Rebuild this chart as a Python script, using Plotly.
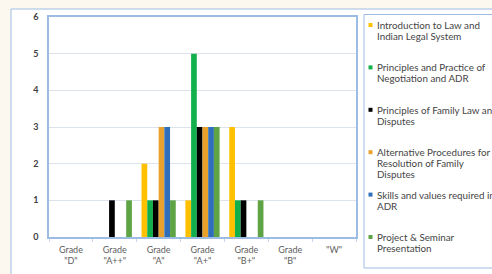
import plotly.graph_objects as go

categories = ['Grade<br>"D"', 'Grade<br>"A++"', 'Grade<br>"A"', 'Grade<br>"A+"',
              'Grade<br>"B+"', 'Grade<br>"B"', '"W"']

series_names = [
    "Introduction to Law and Indian Legal System",
    "Principles and Practice of Negotiation and ADR",
    "Principles of Family Law and Disputes",
    "Alternative Procedures for Resolution of Family Disputes",
    "Skills and values required in ADR",
    "Project & Seminar Presentation",
]
# legend text as wrapped in the reference
legend_lines = [
    ["Introduction to Law and", "Indian Legal System"],
    ["Principles and Practice of", "Negotiation and ADR"],
    ["Principles of Family Law and", "Disputes"],
    ["Alternative Procedures for", "Resolution of Family", "Disputes"],
    ["Skills and values required in", "ADR"],
    ["Project & Seminar", "Presentation"],
]
intro_law = [0, 0, 2, 1, 3, 0, 0]
negotiation_adr = [0, 0, 1, 5, 1, 0, 0]
family_law = [0, 1, 1, 3, 1, 0, 0]
alt_procedures = [0, 0, 3, 3, 0, 0, 0]
skills_adr = [0, 0, 3, 3, 0, 0, 0]
project_seminar = [0, 1, 1, 3, 1, 0, 0]

series_values = [intro_law, negotiation_adr, family_law, alt_procedures, skills_adr, project_seminar]
colors = ["#FFC000", "#12B04C", "#000000", "#E8A22C", "#2F6EBA", "#5FA444"]

W, H = 492, 274
L, R, T, B = 49, 356, 17, 237
pw, ph = R - L, B - T


def px_x(p):
    return (p - L) / pw


def px_y(p):
    return (B - p) / ph


border = "#9DBCE3"
font_fam = "Lato, Open Sans, sans-serif"

fig = go.Figure()
for name, vals, col in zip(series_names, series_values, colors):
    fig.add_trace(go.Bar(x=categories, y=vals, name=name, marker_color=col,
                         marker_line_width=0, showlegend=False))

shapes = [
    dict(type="rect", xref="paper", yref="paper", layer="below",
         x0=px_x(11), x1=px_x(510), y0=px_y(300), y1=px_y(9),
         fillcolor="white", line=dict(color=border, width=1)),
    dict(type="rect", xref="paper", yref="paper",
         x0=px_x(364), x1=px_x(520), y0=px_y(268), y1=px_y(14.5),
         fillcolor="white", line=dict(color=border, width=1)),
]
annotations = []
entry_top = 25
entry_step = 42.4
line_step = 11
for i, (lines, col) in enumerate(zip(legend_lines, colors)):
    y0 = entry_top + i * entry_step
    shapes.append(dict(type="rect", xref="paper", yref="paper",
                       x0=px_x(368.5), x1=px_x(372.5), y0=px_y(y0 + 2), y1=px_y(y0 - 2),
                       fillcolor=col, line=dict(width=0)))
    for j, ln in enumerate(lines):
        annotations.append(dict(xref="paper", yref="paper", x=px_x(375), y=px_y(y0 + j * line_step),
                                xanchor="left", yanchor="middle", showarrow=False, text=ln,
                                font=dict(family=font_fam, size=9.8, color="#454545")))

fig.update_layout(
    width=W, height=H,
    margin=dict(l=L, r=W - R, t=T, b=H - B, pad=0, autoexpand=False),
    paper_bgcolor="#FDF8EF",
    plot_bgcolor="white",
    barmode="group", bargap=0.22, bargroupgap=0,
    font=dict(family=font_fam, color="#505050", size=9),
    showlegend=False,
    shapes=shapes,
    annotations=annotations,
)
fig.update_xaxes(
    showline=True, mirror=True, linecolor=border, linewidth=1.5,
    ticks="outside", tickson="boundaries", ticklen=3, tickcolor="#C8D6EA",
    tickfont=dict(size=9, color="#606060"), showgrid=False,
    ticklabelstandoff=3,
)
fig.update_yaxes(
    range=[0, 6], dtick=1, showline=True, mirror=True, linecolor=border, linewidth=1.5,
    gridcolor="#DCE3EC", gridwidth=1, zeroline=False,
    tickfont=dict(size=9, color="#404040", weight="bold"),
    ticklabelstandoff=7,
)
fig.write_html(
    "out.html",
    config={"displayModeBar": False},
    post_script="document.body.style.margin='0';document.body.style.overflow='hidden';",
)
